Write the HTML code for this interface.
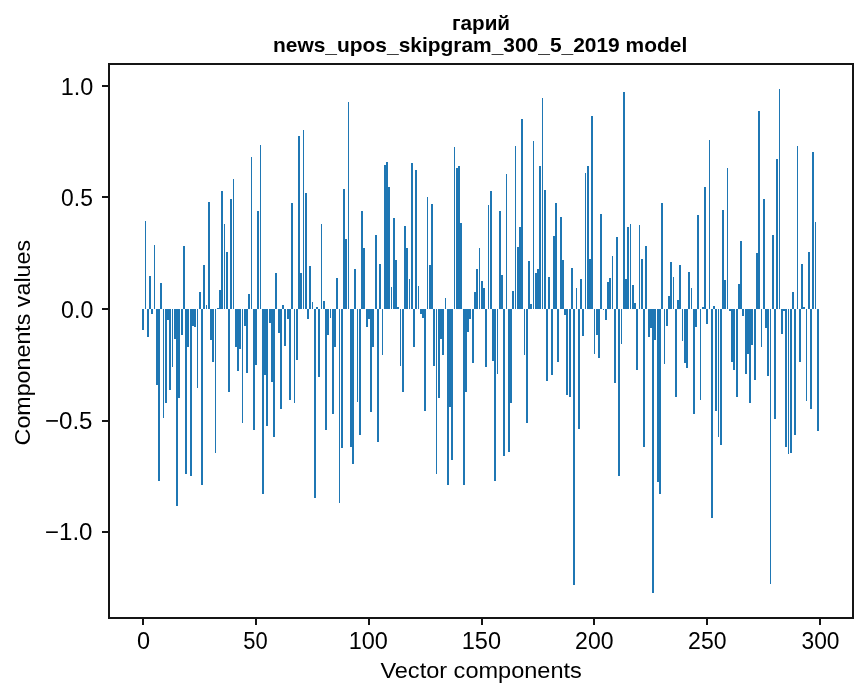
<!DOCTYPE html>
<html><head><meta charset="utf-8"><style>
html,body{margin:0;padding:0;background:#fff;overflow:hidden;}
svg{display:block;will-change:transform;}
.t{font-family:"Liberation Sans",sans-serif;font-size:21px;fill:#000;}
.tb{font-family:"Liberation Sans",sans-serif;font-size:21px;font-weight:bold;fill:#000;}
</style></head><body>
<svg width="867" height="696" viewBox="0 0 867 696">
<rect x="0" y="0" width="867" height="696" fill="#fff"/>
<g fill="#1f77b4" shape-rendering="crispEdges">
<rect x="142" y="309" width="2" height="21"/>
<rect x="145" y="221" width="1" height="88"/>
<rect x="147" y="309" width="2" height="28"/>
<rect x="149" y="276" width="2" height="33"/>
<rect x="151" y="309" width="2" height="5"/>
<rect x="154" y="245" width="1" height="64"/>
<rect x="156" y="309" width="2" height="76"/>
<rect x="158" y="309" width="2" height="172"/>
<rect x="160" y="283" width="2" height="26"/>
<rect x="163" y="309" width="1" height="109"/>
<rect x="165" y="309" width="2" height="94"/>
<rect x="167" y="309" width="2" height="11"/>
<rect x="169" y="309" width="2" height="81"/>
<rect x="172" y="309" width="1" height="58"/>
<rect x="174" y="309" width="2" height="30"/>
<rect x="176" y="309" width="2" height="197"/>
<rect x="178" y="309" width="2" height="89"/>
<rect x="181" y="309" width="2" height="26"/>
<rect x="183" y="246" width="2" height="63"/>
<rect x="185" y="309" width="2" height="165"/>
<rect x="187" y="309" width="2" height="38"/>
<rect x="190" y="309" width="2" height="167"/>
<rect x="192" y="309" width="2" height="17"/>
<rect x="194" y="309" width="2" height="18"/>
<rect x="197" y="309" width="1" height="79"/>
<rect x="199" y="292" width="2" height="17"/>
<rect x="201" y="309" width="2" height="176"/>
<rect x="203" y="265" width="2" height="44"/>
<rect x="206" y="305" width="1" height="4"/>
<rect x="208" y="202" width="2" height="107"/>
<rect x="210" y="309" width="2" height="31"/>
<rect x="212" y="309" width="2" height="53"/>
<rect x="215" y="309" width="1" height="144"/>
<rect x="217" y="308" width="2" height="1"/>
<rect x="219" y="290" width="2" height="19"/>
<rect x="221" y="191" width="2" height="118"/>
<rect x="224" y="224" width="1" height="85"/>
<rect x="226" y="252" width="2" height="57"/>
<rect x="228" y="309" width="2" height="83"/>
<rect x="230" y="199" width="2" height="110"/>
<rect x="233" y="179" width="1" height="130"/>
<rect x="235" y="309" width="2" height="38"/>
<rect x="237" y="309" width="2" height="62"/>
<rect x="239" y="309" width="2" height="40"/>
<rect x="242" y="309" width="1" height="114"/>
<rect x="244" y="309" width="2" height="17"/>
<rect x="246" y="309" width="2" height="64"/>
<rect x="248" y="294" width="2" height="15"/>
<rect x="251" y="157" width="1" height="152"/>
<rect x="253" y="309" width="2" height="121"/>
<rect x="255" y="309" width="2" height="56"/>
<rect x="257" y="211" width="2" height="98"/>
<rect x="260" y="145" width="1" height="164"/>
<rect x="262" y="309" width="2" height="185"/>
<rect x="264" y="309" width="2" height="66"/>
<rect x="266" y="309" width="2" height="117"/>
<rect x="269" y="309" width="2" height="14"/>
<rect x="271" y="309" width="2" height="73"/>
<rect x="273" y="309" width="2" height="128"/>
<rect x="275" y="273" width="2" height="36"/>
<rect x="278" y="309" width="2" height="24"/>
<rect x="280" y="309" width="2" height="100"/>
<rect x="282" y="305" width="2" height="4"/>
<rect x="284" y="309" width="2" height="37"/>
<rect x="287" y="309" width="2" height="10"/>
<rect x="289" y="309" width="2" height="91"/>
<rect x="291" y="203" width="2" height="106"/>
<rect x="294" y="309" width="1" height="94"/>
<rect x="296" y="309" width="2" height="51"/>
<rect x="298" y="136" width="2" height="173"/>
<rect x="300" y="273" width="2" height="36"/>
<rect x="303" y="130" width="1" height="179"/>
<rect x="305" y="193" width="2" height="116"/>
<rect x="307" y="309" width="2" height="10"/>
<rect x="309" y="266" width="2" height="43"/>
<rect x="312" y="302" width="1" height="7"/>
<rect x="314" y="309" width="2" height="189"/>
<rect x="316" y="307" width="2" height="2"/>
<rect x="318" y="309" width="2" height="68"/>
<rect x="321" y="224" width="1" height="85"/>
<rect x="323" y="301" width="2" height="8"/>
<rect x="325" y="309" width="2" height="121"/>
<rect x="327" y="309" width="2" height="26"/>
<rect x="330" y="309" width="1" height="9"/>
<rect x="332" y="309" width="2" height="105"/>
<rect x="334" y="309" width="2" height="38"/>
<rect x="336" y="278" width="2" height="31"/>
<rect x="339" y="309" width="1" height="194"/>
<rect x="341" y="309" width="2" height="139"/>
<rect x="343" y="189" width="2" height="120"/>
<rect x="345" y="239" width="2" height="70"/>
<rect x="348" y="102" width="1" height="207"/>
<rect x="350" y="309" width="2" height="138"/>
<rect x="352" y="309" width="2" height="155"/>
<rect x="354" y="269" width="2" height="40"/>
<rect x="357" y="309" width="1" height="93"/>
<rect x="359" y="309" width="2" height="126"/>
<rect x="361" y="211" width="2" height="98"/>
<rect x="363" y="248" width="2" height="61"/>
<rect x="366" y="309" width="2" height="18"/>
<rect x="368" y="309" width="2" height="10"/>
<rect x="370" y="309" width="2" height="103"/>
<rect x="372" y="309" width="2" height="38"/>
<rect x="375" y="235" width="2" height="74"/>
<rect x="377" y="309" width="2" height="133"/>
<rect x="379" y="264" width="2" height="45"/>
<rect x="382" y="309" width="1" height="46"/>
<rect x="384" y="165" width="2" height="144"/>
<rect x="386" y="162" width="2" height="147"/>
<rect x="388" y="187" width="2" height="122"/>
<rect x="391" y="287" width="1" height="22"/>
<rect x="393" y="218" width="2" height="91"/>
<rect x="395" y="260" width="2" height="49"/>
<rect x="397" y="307" width="2" height="2"/>
<rect x="400" y="309" width="1" height="57"/>
<rect x="402" y="309" width="2" height="83"/>
<rect x="404" y="226" width="2" height="83"/>
<rect x="406" y="248" width="2" height="61"/>
<rect x="409" y="279" width="1" height="30"/>
<rect x="411" y="163" width="2" height="146"/>
<rect x="413" y="309" width="2" height="38"/>
<rect x="415" y="170" width="2" height="139"/>
<rect x="418" y="286" width="1" height="23"/>
<rect x="420" y="309" width="2" height="5"/>
<rect x="422" y="309" width="2" height="9"/>
<rect x="424" y="309" width="2" height="102"/>
<rect x="427" y="197" width="1" height="112"/>
<rect x="429" y="265" width="2" height="44"/>
<rect x="431" y="204" width="2" height="105"/>
<rect x="433" y="309" width="2" height="57"/>
<rect x="436" y="309" width="1" height="165"/>
<rect x="438" y="309" width="2" height="89"/>
<rect x="440" y="309" width="2" height="30"/>
<rect x="442" y="309" width="2" height="46"/>
<rect x="445" y="298" width="1" height="11"/>
<rect x="447" y="309" width="2" height="176"/>
<rect x="449" y="309" width="2" height="98"/>
<rect x="451" y="309" width="2" height="151"/>
<rect x="454" y="147" width="1" height="162"/>
<rect x="456" y="168" width="2" height="141"/>
<rect x="458" y="166" width="2" height="143"/>
<rect x="460" y="223" width="2" height="86"/>
<rect x="463" y="309" width="2" height="176"/>
<rect x="465" y="309" width="2" height="83"/>
<rect x="467" y="309" width="2" height="23"/>
<rect x="469" y="309" width="2" height="10"/>
<rect x="472" y="309" width="2" height="54"/>
<rect x="474" y="292" width="2" height="17"/>
<rect x="476" y="269" width="2" height="40"/>
<rect x="479" y="248" width="1" height="61"/>
<rect x="481" y="281" width="2" height="28"/>
<rect x="483" y="288" width="2" height="21"/>
<rect x="485" y="309" width="2" height="58"/>
<rect x="488" y="205" width="1" height="104"/>
<rect x="490" y="191" width="2" height="118"/>
<rect x="492" y="309" width="2" height="52"/>
<rect x="494" y="309" width="2" height="172"/>
<rect x="497" y="309" width="1" height="65"/>
<rect x="499" y="211" width="2" height="98"/>
<rect x="501" y="275" width="2" height="34"/>
<rect x="503" y="309" width="2" height="147"/>
<rect x="506" y="174" width="1" height="135"/>
<rect x="508" y="309" width="2" height="143"/>
<rect x="510" y="309" width="2" height="94"/>
<rect x="512" y="291" width="2" height="18"/>
<rect x="515" y="146" width="1" height="163"/>
<rect x="517" y="247" width="2" height="62"/>
<rect x="519" y="227" width="2" height="82"/>
<rect x="521" y="119" width="2" height="190"/>
<rect x="524" y="309" width="1" height="46"/>
<rect x="526" y="309" width="2" height="114"/>
<rect x="528" y="261" width="2" height="48"/>
<rect x="530" y="304" width="2" height="5"/>
<rect x="533" y="141" width="1" height="168"/>
<rect x="535" y="273" width="2" height="36"/>
<rect x="537" y="269" width="2" height="40"/>
<rect x="539" y="166" width="2" height="143"/>
<rect x="542" y="98" width="1" height="211"/>
<rect x="544" y="190" width="2" height="119"/>
<rect x="546" y="309" width="2" height="72"/>
<rect x="548" y="277" width="2" height="32"/>
<rect x="551" y="309" width="2" height="66"/>
<rect x="553" y="236" width="2" height="73"/>
<rect x="555" y="203" width="2" height="106"/>
<rect x="557" y="309" width="2" height="53"/>
<rect x="560" y="217" width="2" height="92"/>
<rect x="562" y="260" width="2" height="49"/>
<rect x="564" y="309" width="2" height="6"/>
<rect x="566" y="309" width="2" height="86"/>
<rect x="569" y="309" width="2" height="88"/>
<rect x="571" y="268" width="2" height="41"/>
<rect x="573" y="309" width="2" height="276"/>
<rect x="576" y="288" width="1" height="21"/>
<rect x="578" y="309" width="2" height="120"/>
<rect x="580" y="279" width="2" height="30"/>
<rect x="582" y="309" width="2" height="27"/>
<rect x="585" y="173" width="1" height="136"/>
<rect x="587" y="166" width="2" height="143"/>
<rect x="589" y="259" width="2" height="50"/>
<rect x="591" y="116" width="2" height="193"/>
<rect x="594" y="309" width="1" height="45"/>
<rect x="596" y="309" width="2" height="26"/>
<rect x="598" y="309" width="2" height="49"/>
<rect x="600" y="214" width="2" height="95"/>
<rect x="603" y="309" width="1" height="1"/>
<rect x="605" y="309" width="2" height="11"/>
<rect x="607" y="282" width="2" height="27"/>
<rect x="609" y="278" width="2" height="31"/>
<rect x="612" y="256" width="1" height="53"/>
<rect x="614" y="309" width="2" height="74"/>
<rect x="616" y="237" width="2" height="72"/>
<rect x="618" y="309" width="2" height="167"/>
<rect x="621" y="309" width="1" height="35"/>
<rect x="623" y="92" width="2" height="217"/>
<rect x="625" y="279" width="2" height="30"/>
<rect x="627" y="227" width="2" height="82"/>
<rect x="630" y="224" width="1" height="85"/>
<rect x="632" y="285" width="2" height="24"/>
<rect x="634" y="303" width="2" height="6"/>
<rect x="636" y="309" width="2" height="61"/>
<rect x="639" y="225" width="1" height="84"/>
<rect x="641" y="259" width="2" height="50"/>
<rect x="643" y="309" width="2" height="138"/>
<rect x="645" y="246" width="2" height="63"/>
<rect x="648" y="309" width="2" height="28"/>
<rect x="650" y="309" width="2" height="19"/>
<rect x="652" y="309" width="2" height="284"/>
<rect x="654" y="309" width="2" height="31"/>
<rect x="657" y="309" width="2" height="173"/>
<rect x="659" y="309" width="2" height="185"/>
<rect x="661" y="203" width="2" height="106"/>
<rect x="664" y="309" width="1" height="55"/>
<rect x="666" y="309" width="2" height="17"/>
<rect x="668" y="296" width="2" height="13"/>
<rect x="670" y="262" width="2" height="47"/>
<rect x="673" y="277" width="1" height="32"/>
<rect x="675" y="309" width="2" height="88"/>
<rect x="677" y="300" width="2" height="9"/>
<rect x="679" y="265" width="2" height="44"/>
<rect x="682" y="309" width="1" height="32"/>
<rect x="684" y="309" width="2" height="54"/>
<rect x="686" y="309" width="2" height="59"/>
<rect x="688" y="272" width="2" height="37"/>
<rect x="691" y="288" width="1" height="21"/>
<rect x="693" y="309" width="2" height="105"/>
<rect x="695" y="309" width="2" height="18"/>
<rect x="697" y="215" width="2" height="94"/>
<rect x="700" y="309" width="1" height="91"/>
<rect x="702" y="307" width="2" height="2"/>
<rect x="704" y="187" width="2" height="122"/>
<rect x="706" y="309" width="2" height="15"/>
<rect x="709" y="140" width="1" height="169"/>
<rect x="711" y="309" width="2" height="209"/>
<rect x="713" y="306" width="2" height="3"/>
<rect x="715" y="309" width="2" height="102"/>
<rect x="718" y="309" width="1" height="128"/>
<rect x="720" y="309" width="2" height="136"/>
<rect x="722" y="210" width="2" height="99"/>
<rect x="724" y="280" width="2" height="29"/>
<rect x="727" y="168" width="1" height="141"/>
<rect x="729" y="309" width="2" height="2"/>
<rect x="731" y="309" width="2" height="53"/>
<rect x="733" y="309" width="2" height="61"/>
<rect x="736" y="309" width="2" height="88"/>
<rect x="738" y="284" width="2" height="25"/>
<rect x="740" y="241" width="2" height="68"/>
<rect x="742" y="309" width="2" height="7"/>
<rect x="745" y="309" width="2" height="65"/>
<rect x="747" y="309" width="2" height="45"/>
<rect x="749" y="309" width="2" height="94"/>
<rect x="751" y="309" width="2" height="36"/>
<rect x="754" y="309" width="2" height="71"/>
<rect x="756" y="253" width="2" height="56"/>
<rect x="758" y="111" width="2" height="198"/>
<rect x="761" y="309" width="1" height="38"/>
<rect x="763" y="199" width="2" height="110"/>
<rect x="765" y="309" width="2" height="19"/>
<rect x="767" y="309" width="2" height="67"/>
<rect x="770" y="309" width="1" height="275"/>
<rect x="772" y="235" width="2" height="74"/>
<rect x="774" y="309" width="2" height="110"/>
<rect x="776" y="159" width="2" height="150"/>
<rect x="779" y="89" width="1" height="220"/>
<rect x="781" y="309" width="2" height="25"/>
<rect x="783" y="309" width="2" height="2"/>
<rect x="785" y="309" width="2" height="138"/>
<rect x="788" y="309" width="1" height="145"/>
<rect x="790" y="309" width="2" height="144"/>
<rect x="792" y="292" width="2" height="17"/>
<rect x="794" y="309" width="2" height="126"/>
<rect x="797" y="146" width="1" height="163"/>
<rect x="799" y="309" width="2" height="53"/>
<rect x="801" y="264" width="2" height="45"/>
<rect x="803" y="307" width="2" height="2"/>
<rect x="806" y="309" width="1" height="92"/>
<rect x="808" y="252" width="2" height="57"/>
<rect x="810" y="309" width="2" height="100"/>
<rect x="812" y="152" width="2" height="157"/>
<rect x="815" y="222" width="1" height="87"/>
<rect x="817" y="309" width="2" height="122"/>
</g>
<g fill="#151515" shape-rendering="crispEdges">
<rect x="108" y="63" width="2" height="556"/>
<rect x="852" y="63" width="2" height="556"/>
<rect x="108" y="63" width="746" height="2"/>
<rect x="108" y="617" width="746" height="2"/>
<rect x="142" y="619" width="2" height="6"/>
<rect x="255" y="619" width="2" height="6"/>
<rect x="368" y="619" width="2" height="6"/>
<rect x="481" y="619" width="2" height="6"/>
<rect x="593" y="619" width="2" height="6"/>
<rect x="706" y="619" width="2" height="6"/>
<rect x="819" y="619" width="2" height="6"/>
<rect x="102" y="85" width="6" height="2"/>
<rect x="102" y="196" width="6" height="2"/>
<rect x="102" y="308" width="6" height="2"/>
<rect x="102" y="420" width="6" height="2"/>
<rect x="102" y="531" width="6" height="2"/>
</g>
<text class="t" transform="matrix(1.1154,0,0,1.1143,60.77,94.90)">1.0</text>
<text class="t" transform="matrix(1.0889,0,0,1.1286,61.11,206.00)">0.5</text>
<text class="t" transform="matrix(1.1037,0,0,1.1286,61.10,318.00)">0.0</text>
<text class="t" transform="matrix(1.1475,0,0,1.1571,44.95,429.20)">−0.5</text>
<text class="t" transform="matrix(1.1475,0,0,1.1214,44.95,540.00)">−1.0</text>
<text class="t" transform="matrix(1.1200,0,0,1.1286,137.08,649.00)">0</text>
<text class="t" transform="matrix(1.0455,0,0,1.1286,243.35,649.00)">50</text>
<text class="t" transform="matrix(1.1188,0,0,1.1214,348.66,649.00)">100</text>
<text class="t" transform="matrix(1.1219,0,0,1.1214,461.76,649.00)">150</text>
<text class="t" transform="matrix(1.0970,0,0,1.1214,575.10,649.00)">200</text>
<text class="t" transform="matrix(1.0970,0,0,1.1214,688.10,649.00)">250</text>
<text class="t" transform="matrix(1.0848,0,0,1.1214,801.52,649.00)">300</text>
<text class="t" transform="matrix(1.1212,0,0,1.0889,380.40,678.14)">Vector components</text>
<text class="t" transform="matrix(0,-1.1076,1.0211,0,30.37,445.41)">Components values</text>
<text class="tb" transform="matrix(0.9842,0,0,0.9895,451.92,30.44)">гарий</text>
<text class="tb" transform="matrix(0.9971,0,0,0.9842,273.00,51.66)">news_upos_skipgram_300_5_2019 model</text>
</svg>
</body></html>
